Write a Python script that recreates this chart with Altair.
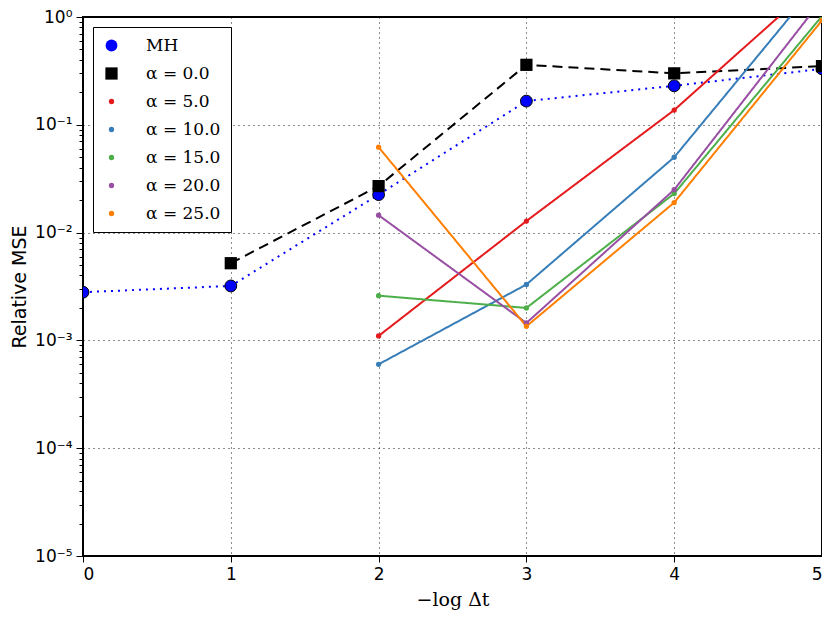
import altair as alt
import pandas as pd

# ---- data ----
x_steps = [0, 1, 2, 3, 4, 5]
series_names = ["MH", "α = 0.0", "α = 5.0", "α = 10.0", "α = 15.0", "α = 20.0", "α = 25.0"]
series_colors = ["#0000ff", "#000000", "#e41a1c", "#377eb8", "#4daf4a", "#984ea3", "#ff7f00"]

mh_x = [0, 1, 2, 3, 4, 5]
mh_y = [2.8e-3, 3.2e-3, 0.0225, 0.166, 0.23, 0.33]
a0_x = [1, 2, 3, 4, 5]
a0_y = [5.2e-3, 0.027, 0.36, 0.30, 0.35]
a_x = [2, 3, 4, 5]
a5_y = [1.1e-3, 0.0128, 0.137, 2.3]
a10_y = [6.0e-4, 3.3e-3, 0.050, 2.3]
a15_y = [2.6e-3, 2.0e-3, 0.023, 1.02]
a20_y = [0.0145, 1.45e-3, 0.025, 1.45]
a25_y = [0.062, 1.35e-3, 0.019, 0.93]

y_major = [1.0, 0.1, 0.01, 0.001, 0.0001, 0.00001]
y_labels = ["10⁰", "10⁻¹", "10⁻²", "10⁻³", "10⁻⁴", "10⁻⁵"]

rows = []
for name, xs, ys in [
    ("MH", mh_x, mh_y),
    ("α = 0.0", a0_x, a0_y),
    ("α = 5.0", a_x, a5_y),
    ("α = 10.0", a_x, a10_y),
    ("α = 15.0", a_x, a15_y),
    ("α = 20.0", a_x, a20_y),
    ("α = 25.0", a_x, a25_y),
]:
    for xv, yv in zip(xs, ys):
        rows.append({"x": xv, "y": yv, "series": name})
df = pd.DataFrame(rows)

y_values = []
for e in range(-5, 0):
    for k in range(1, 10):
        y_values.append(k * 10.0 ** e if k > 1 else 10.0 ** e)
y_values.append(1.0)

major_test = "indexof([1,0.1,0.01,0.001,0.0001,0.00001], datum.value) >= 0"
label_expr = ""
for v, lab in zip(y_major, y_labels):
    label_expr += f"datum.value == {v} ? '{lab}' : "
label_expr += "''"

x_scale = alt.Scale(domain=[0, 5], nice=False, zero=False)
y_scale = alt.Scale(type="log", domain=[1e-5, 1], nice=False)

x_enc = alt.X(
    "x:Q", scale=x_scale,
    axis=alt.Axis(values=x_steps, format="d", title="−log Δt",
                  titleFont="DejaVu Serif", titlePadding=8, tickSize=6,
                  gridOpacity={"condition": {"test": "datum.value > 0 && datum.value < 5", "value": 0.9}, "value": 0}),
)
y_enc = alt.Y(
    "y:Q", scale=y_scale,
    axis=alt.Axis(values=y_values, labelExpr=label_expr, title="Relative MSE",
                  titleFont="DejaVu Sans", titlePadding=5,
                  tickSize={"condition": {"test": major_test, "value": 7}, "value": 4},
                  gridOpacity={"condition": {"test": major_test + " && datum.value < 1 && datum.value > 0.00002", "value": 0.9}, "value": 0}),
)

legend = alt.Legend(
    title=None, orient="none", legendX=10, legendY=10,
    strokeColor="black", fillColor="white", padding=10,
    labelFont="DejaVu Serif", labelFontSize=17, labelColor="black",
    rowPadding=10, symbolStrokeWidth=0, labelOffset=26, labelLimit=300,
)

color = alt.Color("series:N", scale=alt.Scale(domain=series_names, range=series_colors), legend=legend)

lines = alt.Chart(df).mark_line(clip=True, strokeWidth=2).encode(
    x=x_enc, y=y_enc, color=color,
    strokeDash=alt.StrokeDash(
        "series:N",
        scale=alt.Scale(domain=series_names,
                        range=[[2, 5], [10, 6], [1, 0], [1, 0], [1, 0], [1, 0], [1, 0]]),
        legend=None),
)

points = alt.Chart(df).mark_point(clip=True, filled=True, opacity=1).encode(
    x=x_enc, y=y_enc, color=color,
    shape=alt.Shape("series:N", scale=alt.Scale(
        domain=series_names,
        range=["circle", "square", "circle", "circle", "circle", "circle", "circle"]), legend=legend),
    size=alt.Size("series:N", scale=alt.Scale(
        type="ordinal", domain=series_names, range=[140, 150, 28, 28, 28, 28, 28]), legend=legend),
)

mh_edge = alt.Chart(df[df.series == "MH"]).mark_point(
    clip=True, filled=False, color="black", strokeWidth=1, size=140, opacity=1
).encode(x=x_enc, y=y_enc)

chart = alt.layer(lines, points, mh_edge).properties(
    width=739, height=539, background="white",
    autosize=alt.AutoSizeParams(type="none"),
    padding={"left": 75, "top": 9, "right": 0, "bottom": 55},
).configure_view(
    stroke="black", strokeWidth=2
).configure_axis(
    labelFont="DejaVu Sans", labelFontSize=17, labelColor="black", labelPadding=4,
    titleFontSize=19, titleFontWeight="normal", titleColor="black",
    tickColor="black", domain=False,
    grid=True, gridColor="black", gridDash=[1, 4], gridWidth=1,
)

chart.save("out.html", embed_options={"renderer": "svg", "actions": False})
